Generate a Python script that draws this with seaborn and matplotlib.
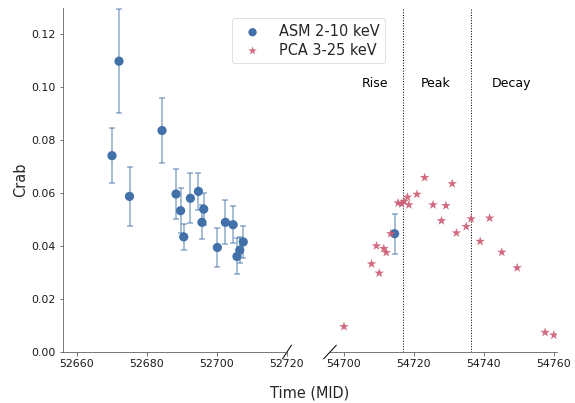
import numpy as np
import pandas as pd
import matplotlib
matplotlib.use("Agg")
import matplotlib.pyplot as plt
import seaborn as sns

# ---- data ----
asm_mjd = [52670.0, 52672.0, 52675.0, 52684.3, 52688.3, 52689.6, 52690.5, 52692.4,
           52694.7, 52696.2, 52695.7, 52700.1, 52702.4, 52704.6, 52705.7, 52706.5,
           52707.5, 54714.5]
asm_flux = [0.0742, 0.1099, 0.0588, 0.0837, 0.0597, 0.0534, 0.0435, 0.0581,
            0.0607, 0.0540, 0.0490, 0.0395, 0.0490, 0.0481, 0.0361, 0.0385,
            0.0416, 0.0447]
asm_err = [0.0104, 0.0197, 0.0111, 0.0124, 0.0093, 0.0086, 0.0049, 0.0094,
           0.0071, 0.0060, 0.0064, 0.0072, 0.0083, 0.0069, 0.0068, 0.0050,
           0.0059, 0.0076]

pca_mjd = [54700.0, 54707.9, 54710.1, 54709.3, 54711.4, 54712.1, 54713.4, 54715.5,
           54716.5, 54717.2, 54718.2, 54718.6, 54720.9, 54723.1, 54725.5, 54727.9,
           54729.2, 54731.0, 54732.2, 54735.0, 54736.4, 54739.0, 54741.7, 54745.2,
           54749.6, 54757.6, 54760.1]
pca_flux = [0.0096, 0.0333, 0.0298, 0.0401, 0.0391, 0.0376, 0.0447, 0.0563,
            0.0560, 0.0569, 0.0585, 0.0556, 0.0596, 0.0659, 0.0556, 0.0496,
            0.0553, 0.0636, 0.0450, 0.0474, 0.0503, 0.0418, 0.0506, 0.0377,
            0.0318, 0.0074, 0.0064]

phase_bounds = [54716.9, 54736.3]
phase_labels = ["Rise", "Peak", "Decay"]
phase_label_x = [54709.0, 54726.2, 54748.0]

left_xlim = (52656, 52720)
right_xlim = (54696, 54761)
y_ticks = [0.00, 0.02, 0.04, 0.06, 0.08, 0.10, 0.12]

asm_df = pd.DataFrame({"mjd": asm_mjd, "flux": asm_flux, "err": asm_err})
pca_df = pd.DataFrame({"mjd": pca_mjd, "flux": pca_flux})

# ---- style ----
sns.set_style("ticks", {"axes.edgecolor": "0.35"})
plt.rcParams["font.family"] = ["DejaVu Sans"]

blue = "#4271aa"
red = "#cc5a71"

fig = plt.figure(figsize=(575 / 72, 403 / 72), dpi=72)
ax1 = fig.add_axes([63 / 575, 51 / 403, 224 / 575, 344 / 403])
ax2 = fig.add_axes([330 / 575, 51 / 403, 227 / 575, 344 / 403], sharey=ax1)

for ax in (ax1, ax2):
    ax.errorbar(asm_df["mjd"], asm_df["flux"], yerr=asm_df["err"], fmt="none",
                ecolor=blue, alpha=0.6, elinewidth=1.5, capsize=3, capthick=1.5,
                zorder=2)
    sns.scatterplot(data=asm_df, x="mjd", y="flux", ax=ax, color=blue, s=85,
                    marker="o", edgecolor="none", zorder=3,
                    label="ASM 2-10 keV" if ax is ax1 else None, legend=False)
    sns.scatterplot(data=pca_df, x="mjd", y="flux", ax=ax, color=red, s=100,
                    marker="*", edgecolor="none", zorder=4, alpha=0.9,
                    label="PCA 3-25 keV" if ax is ax1 else None, legend=False)
    ax.set_xlabel("")
    ax.set_ylabel("")
    ax.tick_params(labelsize=11, labelcolor="0.1", color="0.35")

ax1.set_xlim(*left_xlim)
ax2.set_xlim(*right_xlim)
ax1.set_ylim(0, 0.13)
ax1.set_yticks(y_ticks)
ax1.set_yticklabels([f"{v:.2f}" for v in y_ticks])
ax1.set_xticks([52660, 52680, 52700, 52720])
ax2.set_xticks([54700, 54720, 54740, 54760])
ax1.set_ylabel("Crab", fontsize=14.5)

sns.despine(ax=ax1)
sns.despine(ax=ax2, left=True)
ax2.tick_params(axis="y", left=False, labelleft=False)

for xb in phase_bounds:
    ax2.axvline(xb, color="black", linestyle=":", linewidth=1.0, zorder=1)
for xl, lab in zip(phase_label_x, phase_labels):
    ax2.text(xl, 0.1013, lab, ha="center", va="center", fontsize=12.5, color="black")

# broken axis marks
d = 0.02
kw = dict(color="black", clip_on=False, linewidth=1.0)
ax1.plot((1 - d, 1 + d), (-d * 1.0, d * 1.0), transform=ax1.transAxes, **kw)
ax2.plot((-d * 1.4, d * 1.4), (-d * 1.0, d * 1.0), transform=ax2.transAxes, **kw)

# legend
handles, labels = ax1.get_legend_handles_labels()
leg = fig.legend(handles, labels, loc="upper left",
                 bbox_to_anchor=(225 / 575, 1 - 11 / 403), fontsize=14.5,
                 frameon=True, markerscale=0.9, handletextpad=0.8,
                 labelspacing=0.25, borderpad=0.4)
leg.get_frame().set_edgecolor("0.85")

fig.text(310 / 575, 1 - 400 / 403, "Time (MID)", ha="center", va="bottom",
         fontsize=14.5)

fig.savefig("out.png", dpi=72)
